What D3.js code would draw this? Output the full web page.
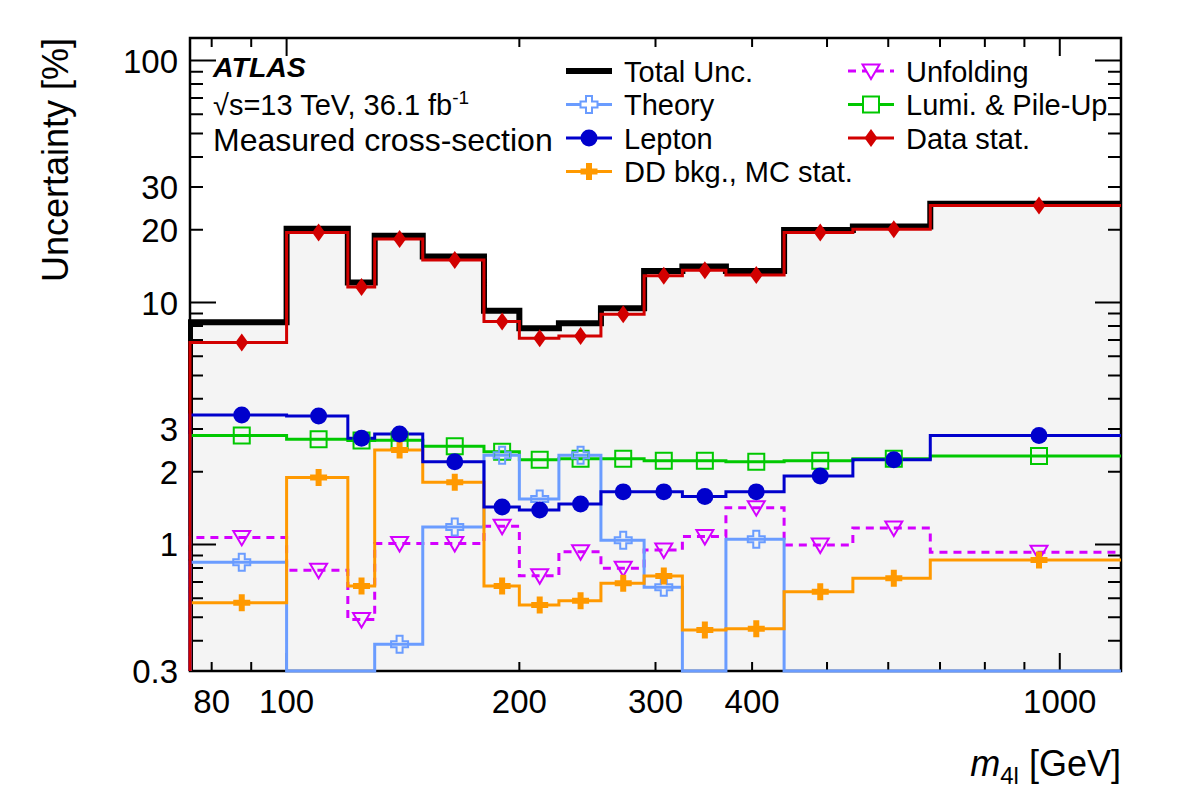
<!DOCTYPE html>
<html>
<head>
<meta charset="utf-8">
<script src="https://cdn.jsdelivr.net/npm/d3@7"></script>
<style>
  body { margin: 0; background: #fff; }
  svg text { font-family: "Liberation Sans", Arial, Helvetica, sans-serif; fill: #000; }
</style>
</head>
<body>
<svg id="chart" width="1182" height="800"></svg>
<script>
// m4l bin edges [GeV]
var binEdges = [75, 100, 120, 130, 150, 180, 200, 225, 255, 290, 325, 370, 440, 540, 680, 1200];

// uncertainties per bin [%] (values below 0.3 are off the plot)
var totalUnc   = [8.29, 20.2, 12.1, 18.9, 15.5, 9.26, 7.83, 8.21, 9.47, 13.5, 14.1, 13.5, 19.95, 20.6, 25.6];
var theory     = [0.844, 0.1, 0.1, 0.387, 1.18, 2.34, 1.54, 2.34, 1.04, 0.665, 0.1, 1.05, 0.1, 0.1, 0.1];
var lepton     = [3.43, 3.40, 2.75, 2.86, 2.20, 1.43, 1.39, 1.47, 1.65, 1.65, 1.58, 1.65, 1.92, 2.24, 2.82];
var ddBkg      = [0.575, 1.89, 0.674, 2.46, 1.81, 0.674, 0.562, 0.586, 0.691, 0.741, 0.443, 0.448, 0.638, 0.725, 0.863];
var unfolding  = [1.07, 0.782, 0.49, 1.01, 1.01, 1.19, 0.743, 0.934, 0.797, 0.949, 1.08, 1.42, 0.995, 1.17, 0.928];
var lumiPileUp = [2.82, 2.72, 2.69, 2.70, 2.55, 2.42, 2.24, 2.26, 2.26, 2.22, 2.22, 2.20, 2.22, 2.26, 2.32];
var dataStat   = [6.83, 19.5, 11.6, 18.3, 15.0, 8.34, 7.12, 7.28, 8.94, 12.9, 13.6, 13.0, 19.5, 20.1, 25.2];

var xTickLabels = [80, 100, 200, 300, 400, 1000];
var yTickLabels = [0.3, 1, 2, 3, 10, 20, 30, 100];

var LEFT = 190, RIGHT = 1121, TOP = 38, BOTTOM = 671;
var X_MIN = 75, X_MAX = 1200, Y_MIN = 0.3, Y_MAX = 124;

var svg = d3.select('#chart');

var x = d3.scaleLog().domain([X_MIN, X_MAX]).range([LEFT, RIGHT]);
var y = d3.scaleLog().domain([Y_MIN, Y_MAX]).range([BOTTOM, TOP]).clamp(true);

// marker shapes, drawn around (0,0)
var shapes = {
  circle: d3.symbol().type(d3.symbolCircle).size(Math.PI * 72)(),
  square: 'M-8,-8H8V8H-8Z',
  diamond: 'M0,-9L6.5,0L0,9L-6.5,0Z',
  plus: 'M-3,-8.5H3V-3H8.5V3H3V8.5H-3V3H-8.5V-3H-3Z',
  triDown: 'M-8.5,-6.5H8.5L0,8Z'
};

var series = [
  { name: 'Total Unc.', values: totalUnc, color: '#000000', width: 6 },
  { name: 'Unfolding', values: unfolding, color: '#d400ff', width: 3, dash: '8,6', marker: 'triDown', open: true },
  { name: 'Lumi. & Pile-Up', values: lumiPileUp, color: '#00c800', width: 3, marker: 'square', open: true },
  { name: 'Theory', values: theory, color: '#6a9cff', width: 3, marker: 'plus', open: true },
  { name: 'DD bkg., MC stat.', values: ddBkg, color: '#ff9900', width: 3, marker: 'plus' },
  { name: 'Lepton', values: lepton, color: '#0000cc', width: 3, marker: 'circle' },
  { name: 'Data stat.', values: dataStat, color: '#d20000', width: 3, marker: 'diamond' }
];

// step outline of a histogram, starting from the bottom of the frame
function stepPoints(vals) {
  var pts = [[binEdges[0], Y_MIN]];
  vals.forEach(function (v, i) {
    pts.push([binEdges[i], v]);
    pts.push([binEdges[i + 1], v]);
  });
  return pts;
}

var line = d3.line().x(function (d) { return x(d[0]); }).y(function (d) { return y(d[1]); });
var area = d3.area().x(function (d) { return x(d[0]); }).y0(BOTTOM).y1(function (d) { return y(d[1]); });

svg.append('defs').append('clipPath').attr('id', 'plotClip')
  .append('rect').attr('x', LEFT - 2).attr('y', TOP).attr('width', RIGHT - LEFT + 3).attr('height', BOTTOM - TOP + 2);

// grey fill below the total uncertainty
svg.append('path')
  .attr('d', area(stepPoints(totalUnc)))
  .attr('fill', '#f4f4f4');

// frame and ticks
var frame = svg.append('g');
frame.append('rect')
  .attr('x', LEFT).attr('y', TOP).attr('width', RIGHT - LEFT).attr('height', BOTTOM - TOP)
  .attr('fill', 'none').attr('stroke', '#000').attr('stroke-width', 2.5);

var xTicks = x.ticks();
frame.selectAll('.xtick').data(xTicks).enter().append('path')
  .attr('d', function (d) {
    var len = Math.abs(Math.log10(d) % 1) < 1e-9 ? 18 : 9;
    var px = x(d);
    return 'M' + px + ',' + BOTTOM + 'v' + (-len) + 'M' + px + ',' + TOP + 'v' + len;
  })
  .attr('stroke', '#000').attr('stroke-width', 2);

var yTicks = y.ticks();
frame.selectAll('.ytick').data(yTicks).enter().append('path')
  .attr('d', function (d) {
    var len = Math.abs(Math.log10(d) - Math.round(Math.log10(d))) < 1e-9 ? 26 : 13;
    var py = y(d);
    return 'M' + LEFT + ',' + py + 'h' + len + 'M' + RIGHT + ',' + py + 'h' + (-len);
  })
  .attr('stroke', '#000').attr('stroke-width', 2);

frame.selectAll('.xlab').data(xTickLabels).enter().append('text')
  .attr('x', function (d) { return x(d); })
  .attr('y', 713)
  .attr('text-anchor', 'middle')
  .style('font-size', '33px')
  .text(function (d) { return d; });

frame.selectAll('.ylab').data(yTickLabels).enter().append('text')
  .attr('x', 178)
  .attr('y', function (d) { return y(d) + 12; })
  .attr('text-anchor', 'end')
  .style('font-size', '33px')
  .text(function (d) { return d; });

// axis titles
var xTitle = svg.append('text')
  .attr('x', RIGHT).attr('y', 776)
  .attr('text-anchor', 'end')
  .style('font-size', '36px');
xTitle.append('tspan').style('font-style', 'italic').text('m');
xTitle.append('tspan').attr('dy', 8).style('font-size', '24px').text('4l');
xTitle.append('tspan').attr('dy', -8).text(' [GeV]');

svg.append('text')
  .attr('transform', 'translate(68,' + TOP + ') rotate(-90)')
  .attr('text-anchor', 'end')
  .style('font-size', '36px')
  .text('Uncertainty [%]');

// histograms
var hists = svg.append('g').attr('clip-path', 'url(#plotClip)');
series.forEach(function (s) {
  hists.append('path')
    .attr('d', line(stepPoints(s.values)))
    .attr('fill', 'none')
    .attr('stroke', s.color)
    .attr('stroke-width', s.width)
    .attr('stroke-dasharray', s.dash || null)
    .attr('stroke-linejoin', 'miter');
});

// markers at the bin centres, only for points inside the range
series.forEach(function (s) {
  if (!s.marker) return;
  var pts = s.values.map(function (v, i) {
    return { x: (binEdges[i] + binEdges[i + 1]) / 2, v: v };
  }).filter(function (d) { return d.v >= Y_MIN; });
  hists.selectAll(null).data(pts).enter().append('path')
    .attr('d', shapes[s.marker])
    .attr('transform', function (d) { return 'translate(' + x(d.x) + ',' + y(d.v) + ')'; })
    .attr('fill', s.open ? 'none' : s.color)
    .attr('stroke', s.color)
    .attr('stroke-width', s.open ? 2 : 0);
});

// ATLAS label
svg.append('text').attr('x', 213).attr('y', 77)
  .style('font-size', '28.5px').style('font-weight', 'bold').style('font-style', 'italic')
  .text('ATLAS');
var energy = svg.append('text').attr('x', 213).attr('y', 115).style('font-size', '29px');
energy.append('tspan').text('\u221As=13 TeV, 36.1 fb');
energy.append('tspan').attr('dy', -11).style('font-size', '19px').text('-1');
svg.append('text').attr('x', 213).attr('y', 151)
  .style('font-size', '32px')
  .text('Measured cross-section');

// legend
var legendOrder = ['Total Unc.', 'Theory', 'Lepton', 'DD bkg., MC stat.', 'Unfolding', 'Lumi. & Pile-Up', 'Data stat.'];
var legendX = [566, 848];
var legendY = [71, 104.5, 138, 171.5];
legendOrder.forEach(function (name, k) {
  var s = series.filter(function (d) { return d.name === name; })[0];
  var col = k < 4 ? 0 : 1;
  var row = k < 4 ? k : k - 4;
  var g = svg.append('g').attr('transform', 'translate(' + legendX[col] + ',' + legendY[row] + ')');
  g.append('path')
    .attr('d', 'M0,0H46')
    .attr('stroke', s.color)
    .attr('stroke-width', s.width)
    .attr('stroke-dasharray', s.dash || null);
  if (s.marker) {
    g.append('path')
      .attr('d', shapes[s.marker])
      .attr('transform', 'translate(23,0)')
      .attr('fill', s.open ? '#fff' : s.color)
      .attr('stroke', s.color)
      .attr('stroke-width', s.open ? 2 : 0);
  }
  g.append('text')
    .attr('x', 58).attr('y', 10.5)
    .style('font-size', '29px')
    .text(s.name);
});
</script>
</body>
</html>
